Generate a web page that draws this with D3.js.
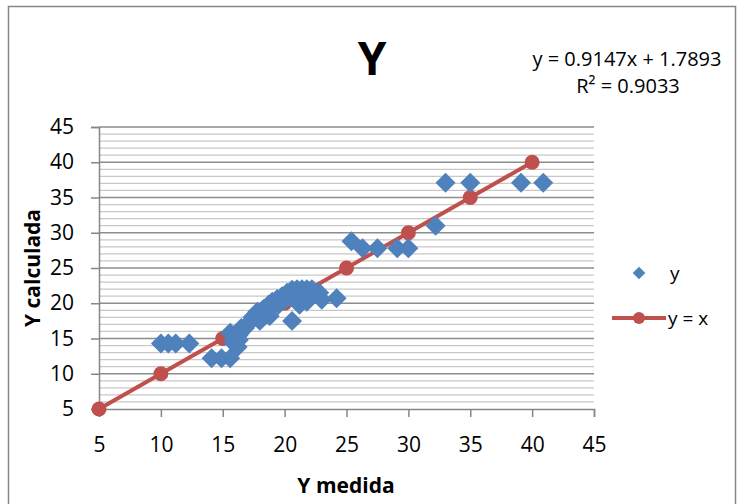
<!DOCTYPE html>
<html><head><meta charset="utf-8">
<script src="https://cdn.jsdelivr.net/npm/d3@7"></script>
<style>body{margin:0;background:#fff}svg{display:block}</style>
</head><body>
<svg id="c" width="746" height="504"></svg>
<script>
const measuredX = [10.0,10.6,11.2,12.3,14.1,14.9,15.6,16.2,15.8,15.6,16.3,16.5,17.0,17.4,17.8,18.3,18.7,19.0,19.4,19.8,20.2,20.6,21.0,21.4,21.8,22.2,20.0,20.5,21.0,21.5,22.0,22.5,21.2,20.6,23.0,24.2,19.5,18.5,17.8,16.8,16.0,18.0,18.8,16.3,21.8,22.8,25.4,26.3,27.5,29.1,30.0,32.2,33.0,35.0,39.1,40.9];
const calcY    = [14.3,14.3,14.3,14.3,12.2,12.2,12.2,13.8,14.5,15.8,15.5,16.5,17.0,18.0,18.8,19.2,19.8,20.2,20.6,21.0,21.5,21.9,22.0,22.0,22.0,22.0,20.5,20.8,21.2,20.5,21.0,21.3,19.8,17.5,20.5,20.7,19.8,18.9,18.0,16.5,15.2,17.5,18.2,14.8,20.2,21.5,28.8,27.8,27.8,27.8,27.8,31.0,37.1,37.1,37.1,37.1];
const idealX = [5,10,15,20,25,30,35,40];
const idealY = [5,10,15,20,25,30,35,40];
const xTicks = [5,10,15,20,25,30,35,40,45];
const yTicks = [5,10,15,20,25,30,35,40,45];

const svg = d3.select("#c");
const font = "'Open Sans', 'Liberation Sans', sans-serif";
const L=99, R=594, T=127, B=409;
const x = d3.scaleLinear().domain([5,45]).range([L,R]);
const y = d3.scaleLinear().domain([5,45]).range([B,T]);

svg.append("rect").attr("x",8.5).attr("y",6.5).attr("width",727).attr("height",510)
  .attr("fill","#fff").attr("stroke","#868686").attr("stroke-width",1.5);

const minor = d3.range(6,45).filter(v=>v%5!==0);
svg.append("g").selectAll("line").data(minor).join("line")
  .attr("x1",L).attr("x2",R).attr("y1",d=>y(d)).attr("y2",d=>y(d))
  .attr("stroke","#c8c8c8").attr("stroke-width",1.3);
svg.append("g").selectAll("line").data(yTicks.filter(v=>v>5)).join("line")
  .attr("x1",L).attr("x2",R).attr("y1",d=>y(d)).attr("y2",d=>y(d))
  .attr("stroke","#8c8c8c").attr("stroke-width",1.5);

const xa = svg.append("g").attr("transform",`translate(0,${B})`)
  .call(d3.axisBottom(x).tickValues(xTicks).tickSize(8).tickPadding(20));
const ya = svg.append("g").attr("transform",`translate(${L},0)`)
  .call(d3.axisLeft(y).tickValues(yTicks).tickSize(8).tickPadding(17));
[xa,ya].forEach(a=>{
  a.select(".domain").attr("stroke","#868686").attr("stroke-width",1.5);
  a.selectAll(".tick line").attr("stroke","#868686").attr("stroke-width",1.5);
  a.selectAll("text").attr("font-family",font).attr("font-size",21).attr("fill","#000");
});

const line = d3.line().x((d,i)=>x(idealX[i])).y((d,i)=>y(idealY[i]));
svg.append("path").datum(idealX).attr("d",line).attr("fill","none")
  .attr("stroke","#C0504D").attr("stroke-width",4);
svg.append("g").selectAll("circle").data(idealX).join("circle")
  .attr("cx",(d,i)=>x(idealX[i])).attr("cy",(d,i)=>y(idealY[i])).attr("r",7.5)
  .attr("fill","#C0504D");

const diamond = d3.symbol().type(d3.symbolSquare).size(200);
svg.append("g").selectAll("path").data(measuredX).join("path")
  .attr("d",diamond)
  .attr("transform",(d,i)=>`translate(${x(measuredX[i])},${y(calcY[i])}) rotate(45)`)
  .attr("fill","#4F81BD");

svg.append("text").attr("x",372).attr("y",75).attr("text-anchor","middle")
  .attr("font-family",font).attr("font-weight","bold").attr("font-size",46).text("Y");
svg.append("text").attr("x",627).attr("y",66).attr("text-anchor","middle")
  .attr("font-family",font).attr("font-size",20).text("y = 0.9147x + 1.7893");
svg.append("text").attr("x",628).attr("y",93).attr("text-anchor","middle")
  .attr("font-family",font).attr("font-size",20).text("R² = 0.9033");

svg.append("text").attr("x",346).attr("y",493).attr("text-anchor","middle")
  .attr("font-family",font).attr("font-weight","bold").attr("font-size",21).text("Y medida");
svg.append("text").attr("transform","translate(40,268) rotate(-90)").attr("text-anchor","middle")
  .attr("font-family",font).attr("font-weight","bold").attr("font-size",21).text("Y calculada");

svg.append("path").attr("d",d3.symbol().type(d3.symbolSquare).size(80)())
  .attr("transform","translate(639,273) rotate(45)").attr("fill","#4F81BD");
svg.append("text").attr("x",670).attr("y",280).attr("font-family",font).attr("font-size",19).text("y");
svg.append("line").attr("x1",612).attr("x2",666).attr("y1",318).attr("y2",318)
  .attr("stroke","#C0504D").attr("stroke-width",4);
svg.append("circle").attr("cx",639).attr("cy",318).attr("r",6).attr("fill","#C0504D");
svg.append("text").attr("x",668).attr("y",325).attr("font-family",font).attr("font-size",19).text("y = x");
</script>
</body></html>
